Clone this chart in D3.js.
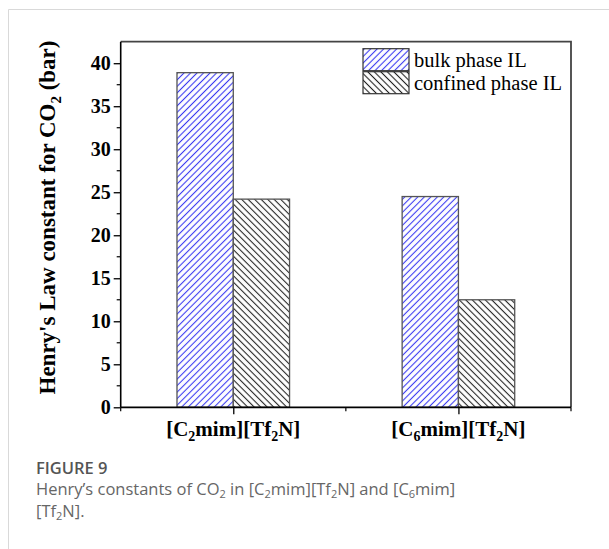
<!DOCTYPE html>
<html>
<head>
<meta charset="utf-8">
<script src="https://cdn.jsdelivr.net/npm/d3@7"></script>
<style>
  html, body { margin: 0; padding: 0; background: #fff; }
  svg { display: block; }
</style>
</head>
<body>
<svg id="chart" width="609" height="549"></svg>
<script>
// Henry's law constants for CO2 (bar), bulk vs. confined ionic liquid
const categories = ["C2", "C6"];
const categoryLabels = [
  { pre: "[C", sub: "2", mid: "mim][Tf", sub2: "2", post: "N]" },
  { pre: "[C", sub: "6", mid: "mim][Tf", sub2: "2", post: "N]" }
];
const seriesNames = ["bulk phase IL", "confined phase IL"];
const bulkValues = [38.9, 24.5];
const confinedValues = [24.2, 12.5];
const yTicks = [0, 5, 10, 15, 20, 25, 30, 35, 40];

const svg = d3.select("#chart");
const serif = "'Liberation Serif', 'Times New Roman', serif";
const sans = "'Open Sans', 'Noto Sans', sans-serif";

// card frame
svg.append("path")
  .attr("d", "M8.5,549 L8.5,9.5 L609,9.5")
  .attr("fill", "none").attr("stroke", "#d9d9d9").attr("stroke-width", 1);

const plot = { left: 120.7, right: 571, top: 41.7, bottom: 407.3 };

const x = d3.scaleLinear().domain([0.5, 2.5]).range([plot.left, plot.right]);
const y = d3.scaleLinear().domain([0, 42.5]).range([plot.bottom, plot.top]);

// hatch patterns
const defs = svg.append("defs");
function hatch(id, color, angle, gap, width) {
  const p = defs.append("pattern")
    .attr("id", id).attr("patternUnits", "userSpaceOnUse")
    .attr("width", gap).attr("height", gap)
    .attr("patternTransform", `rotate(${angle})`);
  p.append("rect").attr("width", gap).attr("height", gap).attr("fill", "#fff");
  p.append("line").attr("x1", gap / 2).attr("x2", gap / 2)
    .attr("y1", 0).attr("y2", gap)
    .attr("stroke", color).attr("stroke-width", width);
}
hatch("hatchBulk", "#3a3af2", 45, 4.6, 1.1);
hatch("hatchConf", "#222", -45, 4.6, 1.1);

const barW = 0.25;
const series = [
  { values: bulkValues, fill: "url(#hatchBulk)", offset: -barW },
  { values: confinedValues, fill: "url(#hatchConf)", offset: 0 }
];

const bars = svg.append("g");
series.forEach(s => {
  bars.selectAll(null).data(s.values).enter().append("rect")
    .attr("x", (d, i) => x(i + 1 + s.offset))
    .attr("width", (d, i) => x(i + 1 + s.offset + barW) - x(i + 1 + s.offset))
    .attr("y", d => y(d))
    .attr("height", d => y(0) - y(d))
    .attr("fill", s.fill)
    .attr("stroke", "#555").attr("stroke-width", 1.3);
});

// frame (top and right)
svg.append("path")
  .attr("d", `M${plot.left},${plot.top} L${plot.right},${plot.top} L${plot.right},${plot.bottom}`)
  .attr("fill", "none").attr("stroke", "#444").attr("stroke-width", 1.8);

// y axis
const yAxis = d3.axisLeft(y).tickValues(yTicks).tickSize(7).tickPadding(3).tickFormat(d3.format("d"));
const gy = svg.append("g").attr("transform", `translate(${plot.left},0)`).call(yAxis);
gy.select(".domain").attr("d", `M0,${plot.top}V${plot.bottom}`).attr("stroke", "#000").attr("stroke-width", 1.6);
gy.selectAll(".tick line").attr("stroke", "#000").attr("stroke-width", 1.3);
gy.selectAll(".tick text").attr("font-family", serif).attr("font-weight", "bold")
  .attr("font-size", 20).attr("fill", "#000");
// minor y ticks
const yMinor = d3.range(2.5, 42.5, 5);
gy.selectAll(".minor").data(yMinor).enter().append("line")
  .attr("x1", -4).attr("x2", 0).attr("y1", d => y(d)).attr("y2", d => y(d))
  .attr("stroke", "#000").attr("stroke-width", 1.2);

// x axis
const xAxis = d3.axisBottom(x).tickValues([1, 2]).tickSize(7).tickFormat("");
const gx = svg.append("g").attr("transform", `translate(0,${plot.bottom})`).call(xAxis);
gx.select(".domain").attr("d", `M${plot.left},0H${plot.right}`).attr("stroke", "#000").attr("stroke-width", 1.8);
gx.selectAll(".tick line").attr("stroke", "#000").attr("stroke-width", 1.3);
gx.selectAll(".minor").data([0.5, 1.5, 2.5]).enter().append("line")
  .attr("x1", d => x(d)).attr("x2", d => x(d)).attr("y1", 0).attr("y2", 4)
  .attr("stroke", "#000").attr("stroke-width", 1.2);

// category labels with subscripts
categoryLabels.forEach((c, i) => {
  const t = svg.append("text")
    .attr("x", x(i + 1)).attr("y", plot.bottom + 29)
    .attr("text-anchor", "middle")
    .attr("font-family", serif).attr("font-weight", "bold").attr("font-size", 21).attr("fill", "#000");
  t.append("tspan").text(c.pre);
  t.append("tspan").text(c.sub).attr("font-size", 14).attr("dy", 5);
  t.append("tspan").text(c.mid).attr("dy", -5);
  t.append("tspan").text(c.sub2).attr("font-size", 14).attr("dy", 5);
  t.append("tspan").text(c.post).attr("dy", -5);
});

// y axis title
const yt = svg.append("text")
  .attr("transform", `translate(55,${(plot.top + plot.bottom) / 2 - 7}) rotate(-90)`)
  .attr("text-anchor", "middle")
  .attr("font-family", serif).attr("font-weight", "bold").attr("font-size", 23).attr("fill", "#000");
yt.append("tspan").text("Henry's Law constant for CO");
yt.append("tspan").text("2").attr("font-size", 15).attr("dy", 6);
yt.append("tspan").text(" (bar)").attr("dy", -6);

// legend
const legend = svg.append("g");
const legendFills = ["url(#hatchBulk)", "url(#hatchConf)"];
seriesNames.forEach((name, i) => {
  const yy = 48.7 + i * 23;
  legend.append("rect").attr("x", 363).attr("y", yy).attr("width", 46).attr("height", 22)
    .attr("fill", legendFills[i]).attr("stroke", "#333").attr("stroke-width", 1.2);
  legend.append("text").attr("x", 414).attr("y", yy + 18)
    .attr("font-family", serif).attr("font-size", 20.5).attr("fill", "#000").text(name);
});

// caption
svg.append("text").attr("x", 36).attr("y", 474)
  .attr("font-family", sans).attr("font-weight", 600).attr("font-size", 16.5).attr("fill", "#555")
  .text("FIGURE 9");
const cap1 = svg.append("text").attr("x", 36).attr("y", 495)
  .attr("font-family", sans).attr("font-size", 16.5).attr("fill", "#666");
cap1.append("tspan").text("Henry\u2019s constants of CO");
cap1.append("tspan").text("2").attr("font-size", 11).attr("dy", 3);
cap1.append("tspan").text(" in [C").attr("dy", -3);
cap1.append("tspan").text("2").attr("font-size", 11).attr("dy", 3);
cap1.append("tspan").text("mim][Tf").attr("dy", -3);
cap1.append("tspan").text("2").attr("font-size", 11).attr("dy", 3);
cap1.append("tspan").text("N] and [C").attr("dy", -3);
cap1.append("tspan").text("6").attr("font-size", 11).attr("dy", 3);
cap1.append("tspan").text("mim]").attr("dy", -3);
const cap2 = svg.append("text").attr("x", 36).attr("y", 517)
  .attr("font-family", sans).attr("font-size", 16.5).attr("fill", "#666");
cap2.append("tspan").text("[Tf");
cap2.append("tspan").text("2").attr("font-size", 11).attr("dy", 3);
cap2.append("tspan").text("N].").attr("dy", -3);
</script>
</body>
</html>
